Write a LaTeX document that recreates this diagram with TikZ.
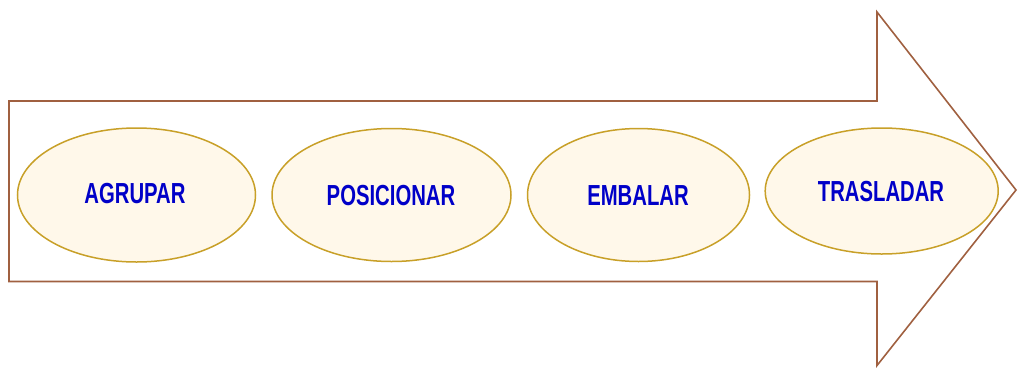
\documentclass[tikz,border=0pt]{standalone}
\usepackage{fontspec}
\setmainfont{Liberation Sans}
\usetikzlibrary{shapes.geometric}
\definecolor{arrowbrown}{RGB}{160,96,64}
\definecolor{ellfill}{RGB}{255,248,234}
\definecolor{ellline}{RGB}{200,160,40}
\definecolor{txtblue}{RGB}{0,0,200}
\tikzset{
  stage/.style={ellipse, draw=ellline, fill=ellfill, line width=1.5pt, inner sep=0pt},
  stagetext/.style={text=txtblue, font=\fontsize{29}{30}\selectfont\bfseries, xscale=0.7, inner sep=0pt}
}
\begin{document}
\begin{tikzpicture}[x=1pt,y=-1pt]
\useasboundingbox (0,0) rectangle (1019,367);
\draw[arrowbrown, line width=1.6pt, line join=miter]
  (9,101) -- (877,101) -- (877,12) -- (1016,190) -- (877,365.5) -- (877,281.5) -- (9,281.5) -- cycle;
\node[stage, minimum width=238pt, minimum height=134pt] (e1) at (136.5,195) {};
\node[stage, minimum width=239pt, minimum height=133pt] (e2) at (391.5,195) {};
\node[stage, minimum width=222pt, minimum height=133pt] (e3) at (638.5,195) {};
\node[stage, minimum width=233pt, minimum height=126pt] (e4) at (881.7,191) {};
\node[stagetext] (t1) at (135,194) {AGRUPAR};
\node[stagetext] (t2) at (391,196) {POSICIONAR};
\node[stagetext] (t3) at (638,195.5) {EMBALAR};
\node[stagetext] (t4) at (881,191.5) {TRASLADAR};
\end{tikzpicture}
\end{document}
